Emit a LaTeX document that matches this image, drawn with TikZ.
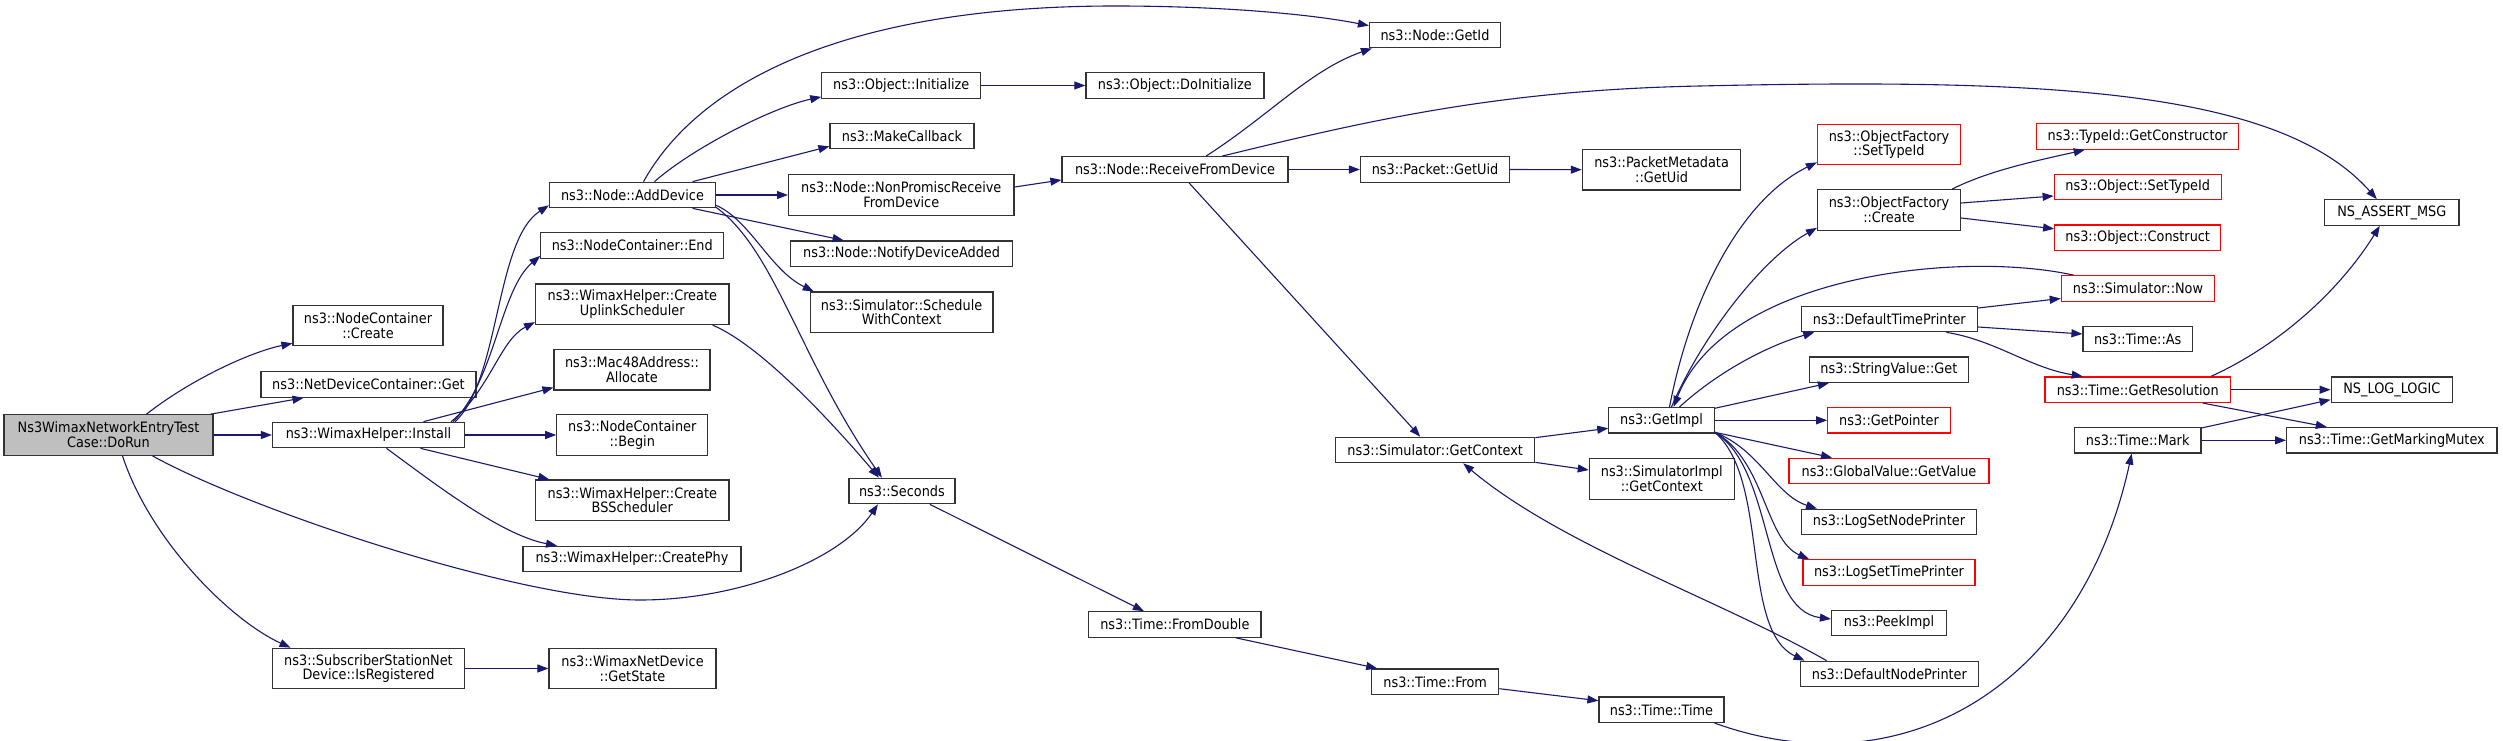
\documentclass[tikz,border=0pt]{standalone}
\usepackage{fontspec}
\setmainfont{DejaVu Sans Condensed}
\usetikzlibrary{arrows.meta}
\definecolor{azulnoche}{HTML}{191970}
\newcommand{\fuentenodo}{\fontsize{14.3}{14.7}\selectfont}

\begin{document}
\begin{tikzpicture}[x=1pt,y=-1pt,
    fn/.style={draw=black!80,fill=white,line width=1.2pt,inner sep=0pt,
      minimum height=25.5pt,align=center,font=\fuentenodo},
    fn2/.style={fn,minimum height=40.5pt},
    rojo/.style={draw=red},
    llamada/.style={draw=azulnoche,line width=1.1pt,-{Triangle[length=11pt,width=8pt]}}]
  \path[use as bounding box,fill=white] (0,0) rectangle (2503,741);
  % funcion raiz y primera columna
  \node[fn2,fill=black!25,minimum width=209] (dorun) at (108.5,435) {Ns3WimaxNetworkEntryTest\\Case::DoRun};
  \node[fn2,minimum width=150] (nccreate) at (368,325.5) {ns3::NodeContainer\\::Create};
  \node[fn,minimum width=215] (ndcget) at (368.5,384.5) {ns3::NetDeviceContainer::Get};
  \node[fn,minimum width=192] (install) at (368.5,435) {ns3::WimaxHelper::Install};
  \node[fn2,minimum width=192] (ssisreg) at (368.5,668.5) {ns3::SubscriberStationNet\\Device::IsRegistered};
  % llamadas de Install
  \node[fn,minimum width=166] (adddev) at (632.5,195) {ns3::Node::AddDevice};
  \node[fn,minimum width=183] (ncend) at (632.3,245.5) {ns3::NodeContainer::End};
  \node[fn2,minimum width=193.5] (uplink) at (632.3,304.3) {ns3::WimaxHelper::Create\\UplinkScheduler};
  \node[fn2,minimum width=156] (mac48) at (632,369.7) {ns3::Mac48Address::\\Allocate};
  \node[fn2,minimum width=151] (ncbegin) at (632.3,435) {ns3::NodeContainer\\::Begin};
  \node[fn2,minimum width=193.5] (bssched) at (632.3,500.3) {ns3::WimaxHelper::Create\\BSScheduler};
  \node[fn,minimum width=218] (createphy) at (632,559) {ns3::WimaxHelper::CreatePhy};
  \node[fn2,minimum width=167] (getstate) at (632.5,668.5) {ns3::WimaxNetDevice\\::GetState};
  % llamadas de AddDevice
  \node[fn,minimum width=159] (objinit) at (901.3,85.5) {ns3::Object::Initialize};
  \node[fn,minimum width=144] (makecb) at (902,136) {ns3::MakeCallback};
  \node[fn2,minimum width=225.4] (nonpromisc) at (901.3,195) {ns3::Node::NonPromiscReceive\\FromDevice};
  \node[fn,minimum width=221.6] (notifydev) at (901.6,253.7) {ns3::Node::NotifyDeviceAdded};
  \node[fn2,minimum width=182.6] (schedule) at (901.6,312.3) {ns3::Simulator::Schedule\\WithContext};
  \node[fn,minimum width=106] (seconds) at (901.9,491) {ns3::Seconds};
  % quinta y sexta columna
  \node[fn,minimum width=178] (doinit) at (1174.9,85.5) {ns3::Object::DoInitialize};
  \node[fn,minimum width=226] (recvdev) at (1175,169.5) {ns3::Node::ReceiveFromDevice};
  \node[fn,minimum width=172.3] (fromdouble) at (1174.9,624.5) {ns3::Time::FromDouble};
  \node[fn,minimum width=131] (getid) at (1435,35) {ns3::Node::GetId};
  \node[fn,minimum width=149] (pktuid) at (1435,169.5) {ns3::Packet::GetUid};
  \node[fn,minimum width=199] (simctx) at (1435.2,450) {ns3::Simulator::GetContext};
  \node[fn,minimum width=127] (timefrom) at (1435.2,681.7) {ns3::Time::From};
  % septima columna
  \node[fn2,minimum width=158.5] (pmuid) at (1661.6,169.7) {ns3::PacketMetadata\\::GetUid};
  \node[fn,minimum width=105.4] (getimpl) at (1661.5,420.3) {ns3::GetImpl};
  \node[fn2,minimum width=145] (implctx) at (1661.8,479) {ns3::SimulatorImpl\\::GetContext};
  \node[fn,minimum width=125] (timetime) at (1661.5,709.7) {ns3::Time::Time};
  % llamadas de GetImpl
  \node[fn2,rojo,minimum width=143] (ofsettype) at (1889,144.5) {ns3::ObjectFactory\\::SetTypeId};
  \node[fn2,minimum width=143] (ofcreate) at (1889,210) {ns3::ObjectFactory\\::Create};
  \node[fn,minimum width=176.3] (deftime) at (1889.3,319) {ns3::DefaultTimePrinter};
  \node[fn,minimum width=159] (strget) at (1888.9,369.7) {ns3::StringValue::Get};
  \node[fn,rojo,minimum width=122.4] (getptr) at (1889,420.3) {ns3::GetPointer};
  \node[fn,rojo,minimum width=200] (globalval) at (1889,471) {ns3::GlobalValue::GetValue};
  \node[fn,minimum width=174.6] (lognode) at (1889,522) {ns3::LogSetNodePrinter};
  \node[fn,rojo,minimum width=172] (logtime) at (1889,572.5) {ns3::LogSetTimePrinter};
  \node[fn,minimum width=115] (peekimpl) at (1889,623) {ns3::PeekImpl};
  \node[fn,minimum width=178.4] (defnode) at (1889.4,674) {ns3::DefaultNodePrinter};
  % novena columna
  \node[fn,rojo,minimum width=202] (getctor) at (2137.7,136.5) {ns3::TypeId::GetConstructor};
  \node[fn,rojo,minimum width=167] (objsettype) at (2137.7,187) {ns3::Object::SetTypeId};
  \node[fn,rojo,minimum width=166] (objconstruct) at (2137.7,237.8) {ns3::Object::Construct};
  \node[fn,rojo,minimum width=153.4] (simnow) at (2138,288.5) {ns3::Simulator::Now};
  \node[fn,minimum width=109.4] (timeas) at (2137.7,339) {ns3::Time::As};
  \node[fn,rojo,minimum width=185.5] (getres) at (2137.7,389.7) {ns3::Time::GetResolution};
  \node[fn,minimum width=126.7] (timemark) at (2137.7,440.3) {ns3::Time::Mark};
  % ultima columna
  \node[fn,minimum width=134.4] (nsassert) at (2391.8,212.5) {NS\_ASSERT\_MSG};
  \node[fn,minimum width=121.3] (nslog) at (2391.8,389.7) {NS\_LOG\_LOGIC};
  \node[fn,minimum width=210.4] (mutex) at (2391.8,440.3) {ns3::Time::GetMarkingMutex};

  % llamadas desde DoRun
  \draw[llamada] ([xshift=38]dorun.north) .. controls (190,380) and (250,352) .. ([yshift=3]nccreate.south west);
  \draw[llamada] ([xshift=-3]dorun.north east) -- ([xshift=-65]ndcget.south);
  \draw[llamada] (dorun.east) -- (install.west);
  \draw[llamada] ([xshift=44]dorun.south) .. controls (250,510) and (520,600) .. (640,600)
    .. controls (740,600) and (840,560) .. ([xshift=-24]seconds.south);
  \draw[llamada] ([xshift=14]dorun.south) .. controls (150,540) and (230,620) .. ([xshift=-78]ssisreg.north);
  % llamadas desde Install
  \draw[llamada] ([xshift=-10]install.north east) .. controls (500,380) and (495,240) .. ([yshift=3]adddev.south west);
  \draw[llamada] ([xshift=-12]install.north east) .. controls (495,380) and (500,290) .. ([yshift=3]ncend.south west);
  \draw[llamada] ([xshift=-14]install.north east) .. controls (490,390) and (500,340) .. ([yshift=3]uplink.south west);
  \draw[llamada] ([xshift=55]install.north) -- ([yshift=3]mac48.south west);
  \draw[llamada] (install.east) -- (ncbegin.west);
  \draw[llamada] ([xshift=52]install.south) -- ([xshift=-83]bssched.north);
  \draw[llamada] ([xshift=18]install.south) .. controls (430,480) and (500,535) .. ([xshift=-75]createphy.north);
  \draw[llamada] (ssisreg.east) -- (getstate.west);
  % llamadas desde AddDevice y UplinkScheduler
  \draw[llamada] ([xshift=11]adddev.north) .. controls (700,80) and (850,6) .. (1115,6)
    .. controls (1220,6) and (1310,14) .. ([yshift=-4]getid.north west);
  \draw[llamada] ([xshift=22]adddev.north) .. controls (690,150) and (770,108) .. ([yshift=2]objinit.south west);
  \draw[llamada] ([xshift=60]adddev.north) -- ([yshift=3]makecb.south west);
  \draw[llamada] (adddev.east) -- (nonpromisc.west);
  \draw[llamada] ([xshift=60]adddev.south) -- ([xshift=-58]notifydev.north);
  \draw[llamada] ([yshift=3]adddev.south east) .. controls (750,220) and (770,270) .. ([xshift=4]schedule.north west);
  \draw[llamada] ([yshift=1]adddev.south east) .. controls (775,250) and (800,360) .. ([xshift=-20]seconds.north);
  \draw[llamada] ([xshift=-17]uplink.south east) .. controls (760,345) and (830,420) .. ([xshift=-23]seconds.north);
  \draw[llamada] (objinit.east) -- (doinit.west);
  \draw[llamada] ([yshift=8]nonpromisc.east) -- ([yshift=-10.5]recvdev.west);
  % llamadas desde ReceiveFromDevice
  \draw[llamada] ([xshift=31]recvdev.north) .. controls (1270,115) and (1310,70) .. ([xshift=3]getid.south west);
  \draw[llamada] ([xshift=47]recvdev.north) .. controls (1370,120) and (1500,90) .. (1700,86)
    .. controls (2050,78) and (2280,90) .. ([xshift=-15]nsassert.north);
  \draw[llamada] (recvdev.east) -- (pktuid.west);
  \draw[llamada] ([xshift=14]recvdev.south) -- ([xshift=-15]simctx.north);
  \draw[llamada] (pktuid.east) -- (pmuid.west);
  % cadena de Time
  \draw[llamada] ([xshift=28]seconds.south) -- ([xshift=-31]fromdouble.north);
  \draw[llamada] ([xshift=61]fromdouble.south) -- ([xshift=-58]timefrom.north);
  \draw[llamada] ([yshift=-7]timefrom.east) -- ([yshift=9]timetime.west);
  \draw[llamada] ([xshift=53]timetime.south) .. controls (1900,790) and (2080,690) .. ([xshift=-6]timemark.south);
  % llamadas desde GetContext y GetImpl
  \draw[llamada] ([yshift=-1]simctx.north east) -- ([yshift=-8]getimpl.west);
  \draw[llamada] ([yshift=1]simctx.south east) -- ([yshift=9]implctx.west);
  \draw[llamada] ([xshift=8]getimpl.north) .. controls (1690,300) and (1740,200) .. ([yshift=3]ofsettype.south west);
  \draw[llamada] ([xshift=10]getimpl.north) .. controls (1700,340) and (1760,260) .. ([yshift=3]ofcreate.south west);
  \draw[llamada] ([xshift=13]simnow.north west) .. controls (1960,250) and (1725,275) .. ([xshift=12]getimpl.north);
  \draw[llamada] ([xshift=18]getimpl.north) .. controls (1720,370) and (1770,345) .. ([xshift=-75]deftime.south);
  \draw[llamada] ([yshift=12]getimpl.east) -- ([xshift=-60]strget.south);
  \draw[llamada] (getimpl.east) -- (getptr.west);
  \draw[llamada] ([yshift=-12]getimpl.east) -- ([xshift=-57]globalval.north);
  \draw[llamada] ([yshift=-12]getimpl.east) .. controls (1760,450) and (1775,495) .. ([xshift=-72]lognode.north);
  \draw[llamada] ([yshift=-12]getimpl.east) .. controls (1765,460) and (1765,540) .. ([xshift=-80]logtime.north);
  \draw[llamada] ([yshift=-12]getimpl.east) .. controls (1775,470) and (1760,610) .. ([yshift=4]peekimpl.west);
  \draw[llamada] ([yshift=-12]getimpl.east) .. controls (1770,480) and (1740,630) .. ([xshift=5]defnode.north west);
  \draw[llamada] ([xshift=27]defnode.north west) .. controls (1720,600) and (1560,545) .. ([xshift=28]simctx.south);
  % llamadas desde ObjectFactory::Create y DefaultTimePrinter
  \draw[llamada] ([xshift=63]ofcreate.north) .. controls (1990,170) and (2040,160) .. ([xshift=-53]getctor.south);
  \draw[llamada] ([yshift=7]ofcreate.east) -- ([yshift=-9]objsettype.west);
  \draw[llamada] ([yshift=-8]ofcreate.east) -- ([yshift=9]objconstruct.west);
  \draw[llamada] ([yshift=11]deftime.east) -- ([yshift=-10]simnow.west);
  \draw[llamada] ([yshift=-8]deftime.east) -- ([yshift=5]timeas.west);
  \draw[llamada] ([xshift=57]deftime.south) .. controls (1995,340) and (2030,368) .. ([xshift=-55]getres.north);
  % llamadas desde GetResolution y Mark
  \draw[llamada] ([xshift=-20]getres.north east) .. controls (2280,345) and (2340,290) .. ([xshift=-12]nsassert.south);
  \draw[llamada] (getres.east) -- (nslog.west);
  \draw[llamada] ([xshift=65]getres.south) -- ([xshift=-65]mutex.north);
  \draw[llamada] ([yshift=-1]timemark.north east) -- ([yshift=-10]nslog.west);
  \draw[llamada] (timemark.east) -- (mutex.west);
\end{tikzpicture}
\end{document}
